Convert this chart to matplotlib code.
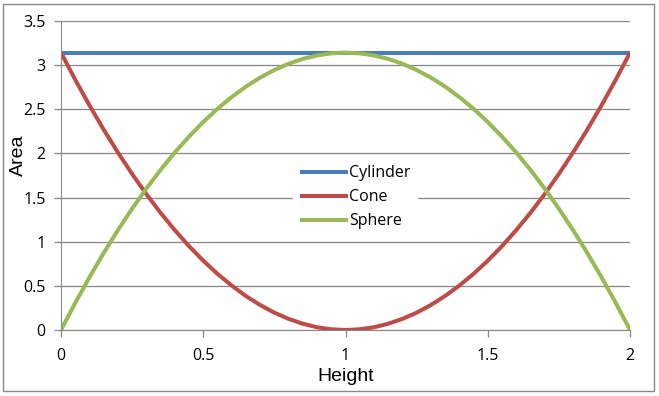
import matplotlib
matplotlib.use('Agg')
import matplotlib.pyplot as plt
from matplotlib.patches import Rectangle

# values, step 0.05 in height
height = [0.00, 0.05, 0.10, 0.15, 0.20, 0.25, 0.30, 0.35, 0.40, 0.45, 0.50,
          0.55, 0.60, 0.65, 0.70, 0.75, 0.80, 0.85, 0.90, 0.95, 1.00,
          1.05, 1.10, 1.15, 1.20, 1.25, 1.30, 1.35, 1.40, 1.45, 1.50,
          1.55, 1.60, 1.65, 1.70, 1.75, 1.80, 1.85, 1.90, 1.95, 2.00]
cylinder = [3.142] * 41
cone = [3.142, 2.835, 2.545, 2.270, 2.011, 1.767, 1.539, 1.327, 1.131, 0.950, 0.785,
        0.636, 0.503, 0.385, 0.283, 0.196, 0.126, 0.071, 0.031, 0.008, 0.000,
        0.008, 0.031, 0.071, 0.126, 0.196, 0.283, 0.385, 0.503, 0.636, 0.785,
        0.950, 1.131, 1.327, 1.539, 1.767, 2.011, 2.270, 2.545, 2.835, 3.142]
sphere = [0.000, 0.306, 0.597, 0.872, 1.131, 1.374, 1.602, 1.814, 2.011, 2.191, 2.356,
          2.506, 2.639, 2.757, 2.859, 2.945, 3.016, 3.071, 3.110, 3.134, 3.142,
          3.134, 3.110, 3.071, 3.016, 2.945, 2.859, 2.757, 2.639, 2.506, 2.356,
          2.191, 2.011, 1.814, 1.602, 1.374, 1.131, 0.872, 0.597, 0.306, 0.000]

fig = plt.figure(figsize=(6.59, 3.96), dpi=100)
fig.patches.append(Rectangle((3/659, 5/396), 651/659, 387/396, transform=fig.transFigure,
                             fill=False, edgecolor='#888888', linewidth=1))
ax = fig.add_axes([61/659, 66/396, 569/659, 309/396])

ax.plot(height, cylinder, color='#4A7EBB', lw=2.9, label='Cylinder', solid_capstyle='butt')
ax.plot(height, cone, color='#BE4B48', lw=2.9, label='Cone', solid_capstyle='butt')
ax.plot(height, sphere, color='#98B954', lw=2.9, label='Sphere', solid_capstyle='butt')

ax.set_xlim(0, 2)
ax.set_ylim(0, 3.5)
ax.set_xticks([0, 0.5, 1, 1.5, 2])
ax.set_xticklabels(['0', '0.5', '1', '1.5', '2'], family='Open Sans')
ax.set_yticks([0, 0.5, 1, 1.5, 2, 2.5, 3, 3.5])
ax.set_yticklabels(['0', '0.5', '1', '1.5', '2', '2.5', '3', '3.5'], family='Open Sans')
ax.yaxis.grid(True, color='#878787', lw=0.9)
ax.set_axisbelow(True)
for s in ['top', 'right']:
    ax.spines[s].set_visible(False)
for s in ['left', 'bottom']:
    ax.spines[s].set_color('#878787')
ax.tick_params(axis='both', colors='#878787', length=5, width=0.9,
               labelcolor='black', labelsize=11.5, pad=6)
ax.tick_params(axis='x', pad=8)

ax.set_xlabel('Height', fontsize=14, family='Liberation Sans')
ax.set_ylabel('Area', fontsize=14, family='Liberation Sans')
ax.xaxis.set_label_coords(0.5, -0.149)
ax.yaxis.set_label_coords(-0.0756, 0.566)
ax.xaxis.label.set_va('center')
ax.yaxis.label.set_va('center')

leg = ax.legend(loc='center', bbox_to_anchor=(0.517, 0.43), frameon=True, fancybox=False,
                framealpha=1, edgecolor='white', handlelength=3.0, labelspacing=0.5,
                prop={'family': 'Open Sans', 'size': 11.5}, borderpad=0.4, handletextpad=0.1)

fig.savefig('out.png', dpi=100)
